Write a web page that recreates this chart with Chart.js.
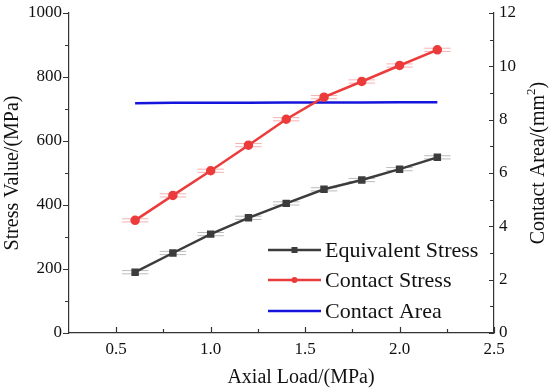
<!DOCTYPE html>
<html>
<head>
<meta charset="utf-8">
<script src="https://cdn.jsdelivr.net/npm/chart.js@4.4.1/dist/chart.umd.min.js"></script>
<style>
  html, body { margin: 0; padding: 0; background: #fff; }
  #wrap { width: 550px; height: 391px; }
</style>
</head>
<body>
<div id="wrap"><canvas id="chart"></canvas></div>
<script>
// values
const axialLoad = [0.6, 0.8, 1.0, 1.2, 1.4, 1.6, 1.8, 2.0, 2.2];
const equivalentStress = [190, 250, 309, 360, 405, 449, 478, 512, 549];
const contactStress = [352, 430, 507, 587, 668, 737, 786, 836, 885];
const contactArea = [8.62, 8.63, 8.63, 8.63, 8.64, 8.64, 8.64, 8.65, 8.65];
const equivalentErr = [5, 5, 5, 5, 5, 5, 5, 5, 5];
const contactErr = [5, 5, 5, 5, 5, 5, 5, 5, 5];

const xTicks = [0.5, 1.0, 1.5, 2.0, 2.5];
const xMinor = [0.75, 1.25, 1.75, 2.25];
const leftTicks = [0, 200, 400, 600, 800, 1000];
const leftMinor = [100, 300, 500, 700, 900];
const rightTicks = [0, 2, 4, 6, 8, 10, 12];
const rightMinor = [1, 3, 5, 7, 9, 11];

const FONT = '"Liberation Serif", "Times New Roman", serif';
const AXIS = '#333';
const TEXT = '#111';

const GRAY = '#3c3c3c';
const RED = '#ec3b3b';
const BLUE = '#1414dc';

Chart.defaults.font.family = FONT;

function pts(ys) {
    return axialLoad.map((x, i) => ({ x: x, y: ys[i] }));
}

const errorBars = {
    id: 'errorBars',
    beforeDatasetsDraw(chart) {
        const ctx = chart.ctx;
        const xs = chart.scales.x;
        const ys = chart.scales.y;
        const sets = [
            { vals: equivalentStress, err: equivalentErr, color: 'rgba(60,60,60,0.35)' },
            { vals: contactStress, err: contactErr, color: 'rgba(236,59,59,0.4)' }
        ];
        ctx.save();
        ctx.lineWidth = 1;
        sets.forEach(s => {
            ctx.strokeStyle = s.color;
            axialLoad.forEach((x, i) => {
                const l = xs.getPixelForValue(x - 0.07);
                const r = xs.getPixelForValue(x + 0.07);
                const cx = xs.getPixelForValue(x);
                const top = ys.getPixelForValue(s.vals[i] + s.err[i]);
                const bot = ys.getPixelForValue(s.vals[i] - s.err[i]);
                ctx.beginPath();
                ctx.moveTo(l, top); ctx.lineTo(r, top);
                ctx.moveTo(l, bot); ctx.lineTo(r, bot);
                ctx.moveTo(cx, top); ctx.lineTo(cx, bot);
                ctx.stroke();
            });
        });
        ctx.restore();
    }
};

const decor = {
    id: 'decor',
    afterDraw(chart) {
        const ctx = chart.ctx;
        const a = chart.chartArea;
        const xs = chart.scales.x, ys = chart.scales.y, y1 = chart.scales.y1;
        ctx.save();
        ctx.strokeStyle = AXIS;
        ctx.lineWidth = 1.2;
        ctx.beginPath();
        // left axis ticks, outward
        leftTicks.forEach(v => { const p = Math.round(ys.getPixelForValue(v)) + 0.5; ctx.moveTo(a.left - 6, p); ctx.lineTo(a.left, p); });
        leftMinor.forEach(v => { const p = Math.round(ys.getPixelForValue(v)) + 0.5; ctx.moveTo(a.left - 4, p); ctx.lineTo(a.left, p); });
        // right axis ticks, inward
        rightTicks.forEach(v => { const p = Math.round(y1.getPixelForValue(v)) + 0.5; ctx.moveTo(a.right - 5, p); ctx.lineTo(a.right, p); });
        rightMinor.forEach(v => { const p = Math.round(y1.getPixelForValue(v)) + 0.5; ctx.moveTo(a.right - 4, p); ctx.lineTo(a.right, p); });
        // bottom ticks, inward
        xTicks.forEach(v => { const p = Math.round(xs.getPixelForValue(v)) + 0.5; ctx.moveTo(p, a.bottom - 6); ctx.lineTo(p, a.bottom); });
        xMinor.forEach(v => { const p = Math.round(xs.getPixelForValue(v)) + 0.5; ctx.moveTo(p, a.bottom - 4); ctx.lineTo(p, a.bottom); });
        ctx.stroke();

        // legend
        ctx.font = '22px ' + FONT;
        ctx.textBaseline = 'middle';
        ctx.textAlign = 'left';
        const rows = [250, 280, 311];
        chart.data.datasets.forEach((ds, i) => {
            const y = rows[i];
            ctx.strokeStyle = ds.borderColor;
            ctx.lineWidth = 2.5;
            ctx.beginPath();
            ctx.moveTo(268, y); ctx.lineTo(321, y);
            ctx.stroke();
            ctx.fillStyle = ds.borderColor;
            if (ds.pointStyle === 'rect') {
                ctx.fillRect(294.5 - 3, y - 3, 6, 6);
            } else if (ds.pointRadius > 0) {
                ctx.beginPath(); ctx.arc(294.5, y, 3, 0, Math.PI * 2); ctx.fill();
            }
            ctx.fillStyle = TEXT;
            ctx.fillText(ds.label, 325, y + 1);
        });

        // axis titles
        ctx.fillStyle = TEXT;
        ctx.font = '20px ' + FONT;
        ctx.textAlign = 'center';
        ctx.fillText('Axial Load/(MPa)', 301, 378);

        ctx.save();
        ctx.translate(13, 173);
        ctx.rotate(-Math.PI / 2);
        ctx.fillText('Stress Value/(MPa)', 0, 0);
        ctx.restore();

        ctx.save();
        ctx.translate(539, 163);
        ctx.rotate(-Math.PI / 2);
        const p1 = 'Contact Area/(mm', p2 = '2', p3 = ')';
        ctx.font = '20px ' + FONT;
        const w1 = ctx.measureText(p1).width, w3 = ctx.measureText(p3).width;
        ctx.font = '13px ' + FONT;
        const w2 = ctx.measureText(p2).width;
        let x0 = -(w1 + w2 + w3) / 2;
        ctx.textAlign = 'left';
        ctx.font = '20px ' + FONT;
        ctx.fillText(p1, x0, 0);
        ctx.font = '13px ' + FONT;
        ctx.fillText(p2, x0 + w1, -7);
        ctx.font = '20px ' + FONT;
        ctx.fillText(p3, x0 + w1 + w2, 0);
        ctx.restore();

        ctx.restore();
    }
};

function fitY(width) {
    return s => {
        s.width = width;
        s.paddingTop = 0;
        s.paddingBottom = 0;
    };
}

const ctx = document.getElementById('chart').getContext('2d');
new Chart(ctx, {
    type: 'line',
    data: {
        datasets: [
            {
                label: 'Equivalent Stress',
                data: pts(equivalentStress),
                yAxisID: 'y',
                borderColor: GRAY,
                backgroundColor: GRAY,
                borderWidth: 2.5,
                pointStyle: 'rect',
                pointRadius: 3.5,
                tension: 0
            },
            {
                label: 'Contact Stress',
                data: pts(contactStress),
                yAxisID: 'y',
                borderColor: RED,
                backgroundColor: RED,
                borderWidth: 2.5,
                pointStyle: 'circle',
                pointRadius: 3.5,
                tension: 0
            },
            {
                label: 'Contact Area',
                data: pts(contactArea),
                yAxisID: 'y1',
                borderColor: BLUE,
                backgroundColor: BLUE,
                borderWidth: 2.5,
                pointRadius: 0,
                tension: 0
            }
        ]
    },
    options: {
        responsive: true,
        maintainAspectRatio: false,
        animation: false,
        layout: { padding: { top: 13, left: 0, right: 0, bottom: 0 } },
        plugins: { legend: { display: false }, tooltip: { enabled: false } },
        scales: {
            x: {
                type: 'linear',
                min: 0.25,
                max: 2.5,
                afterBuildTicks: s => { s.ticks = xTicks.map(v => ({ value: v })); },
                afterFit: s => { s.height = 58; s.paddingLeft = 0; s.paddingRight = 0; },
                grid: { display: false, drawTicks: false },
                border: { display: true, color: AXIS, width: 1.2 },
                ticks: {
                    padding: 6,
                    color: TEXT,
                    font: { family: FONT, size: 17 },
                    maxRotation: 0,
                    callback: v => v.toFixed(1)
                }
            },
            y: {
                position: 'left',
                min: 0,
                max: 1000,
                afterBuildTicks: s => { s.ticks = leftTicks.map(v => ({ value: v })); },
                afterFit: fitY(69),
                grid: { display: false, drawTicks: false },
                border: { display: true, color: AXIS, width: 1.2 },
                ticks: { padding: 7, color: TEXT, font: { family: FONT, size: 17 }, callback: v => String(v) }
            },
            y1: {
                position: 'right',
                min: 0,
                max: 12,
                afterBuildTicks: s => { s.ticks = rightTicks.map(v => ({ value: v })); },
                afterFit: fitY(56),
                grid: { display: false, drawTicks: false },
                border: { display: true, color: AXIS, width: 1.2 },
                ticks: { padding: 5, color: TEXT, font: { family: FONT, size: 17 }, callback: v => String(v) }
            }
        }
    },
    plugins: [errorBars, decor]
});
</script>
</body>
</html>
